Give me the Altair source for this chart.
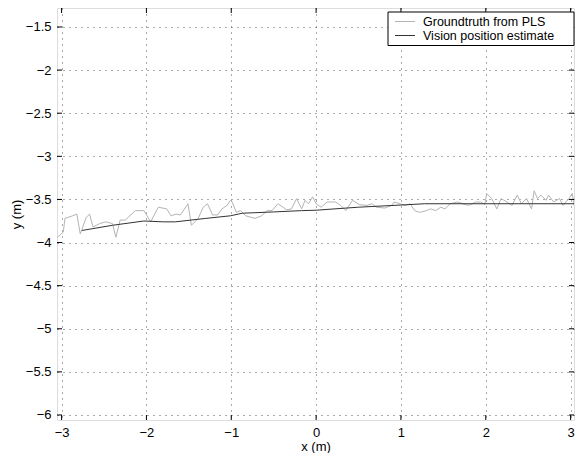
import altair as alt
import pandas as pd

# ---- data ----
gt_x = [-3.05, -2.98, -2.96, -2.87, -2.82, -2.78, -2.71, -2.67, -2.63, -2.55,
        -2.48, -2.40, -2.36, -2.31, -2.25, -2.13, -2.03, -1.95, -1.86, -1.76,
        -1.71, -1.65, -1.60, -1.51, -1.47, -1.39, -1.33, -1.28, -1.22, -1.16,
        -1.11, -1.05, -1.01, -0.99, -0.94, -0.89, -0.83, -0.72, -0.64, -0.58,
        -0.52, -0.45, -0.39, -0.35, -0.29, -0.23, -0.17, -0.13, -0.09, -0.04,
        0.00, 0.06, 0.13, 0.23, 0.29, 0.35, 0.43, 0.51, 0.60, 0.66,
        0.71, 0.81, 0.89, 0.92, 0.99, 1.05, 1.11, 1.16, 1.22, 1.30,
        1.35, 1.41, 1.47, 1.52, 1.58, 1.67, 1.73, 1.80, 1.88, 1.94,
        1.99, 2.01, 2.07, 2.13, 2.18, 2.25, 2.31, 2.37, 2.42, 2.48,
        2.54, 2.57, 2.61, 2.65, 2.71, 2.74, 2.80, 2.87, 2.91, 2.98,
        3.02, 3.04]
gt_y = [-3.94, -3.88, -3.72, -3.69, -3.67, -3.90, -3.71, -3.67, -3.82, -3.78,
        -3.76, -3.78, -3.94, -3.74, -3.74, -3.63, -3.63, -3.76, -3.59, -3.61,
        -3.69, -3.67, -3.68, -3.55, -3.80, -3.72, -3.59, -3.55, -3.68, -3.68,
        -3.61, -3.57, -3.51, -3.53, -3.65, -3.63, -3.69, -3.72, -3.69, -3.63,
        -3.63, -3.55, -3.59, -3.62, -3.61, -3.49, -3.61, -3.51, -3.55, -3.47,
        -3.55, -3.59, -3.53, -3.53, -3.57, -3.63, -3.51, -3.56, -3.57, -3.55,
        -3.59, -3.60, -3.57, -3.53, -3.55, -3.57, -3.55, -3.63, -3.65, -3.63,
        -3.61, -3.63, -3.59, -3.61, -3.55, -3.53, -3.55, -3.57, -3.53, -3.53,
        -3.56, -3.43, -3.49, -3.61, -3.49, -3.53, -3.57, -3.45, -3.55, -3.49,
        -3.61, -3.40, -3.49, -3.45, -3.51, -3.45, -3.53, -3.49, -3.57, -3.49,
        -3.43, -3.57]

vis_x = [-2.76, -2.40, -2.03, -1.80, -1.66, -1.30, -1.01, -0.87, -0.50, -0.17,
         0.00, 0.50, 1.00, 1.28, 2.00, 2.50, 3.04]
vis_y = [-3.86, -3.80, -3.75, -3.76, -3.76, -3.72, -3.69, -3.66, -3.645, -3.63,
         -3.625, -3.59, -3.565, -3.55, -3.55, -3.55, -3.55]

series_names = ["Groundtruth from PLS", "Vision position estimate"]
series_colors = ["#b4b4b4", "#333333"]

x_ticks = [-3, -2, -1, 0, 1, 2, 3]
y_ticks = [-6, -5.5, -5, -4.5, -4, -3.5, -3, -2.5, -2, -1.5]

x_domain = [-3.054, 3.04]
y_domain = [-6.058, -1.28]

W, H = 517, 412
FONT = "Liberation Sans"
FS = 13

df = pd.DataFrame({
    "x": gt_x + vis_x,
    "y": gt_y + vis_y,
    "series": [series_names[0]] * len(gt_x) + [series_names[1]] * len(vis_x),
})
xt = pd.DataFrame({"x": x_ticks})
yt = pd.DataFrame({"y": y_ticks})

xscale = alt.Scale(domain=x_domain, nice=False, zero=False)
yscale = alt.Scale(domain=y_domain, nice=False, zero=False)

lines = alt.Chart(df).mark_line(strokeWidth=1, clip=True).encode(
    x=alt.X("x:Q", scale=xscale, title="x (m)",
            axis=alt.Axis(values=x_ticks, format="~f", ticks=False, domain=False,
                          grid=True, gridDash=[1, 5], gridColor="#555555",
                          gridOpacity=1, labelPadding=6, labelFont=FONT,
                          labelFontSize=FS, labelColor="black",
                          titleFont=FONT, titleFontSize=FS, titleFontWeight="normal",
                          titleColor="black", titleY=20, titleBaseline="top")),
    y=alt.Y("y:Q", scale=yscale, title="y (m)",
            axis=alt.Axis(values=y_ticks, format="~f", ticks=False, domain=False,
                          grid=True, gridDash=[1, 5], gridColor="#555555",
                          gridOpacity=1, labelPadding=6, labelFont=FONT,
                          labelFontSize=FS, labelColor="black",
                          titleFont=FONT, titleFontSize=FS, titleFontWeight="normal",
                          titleColor="black", titleX=-41, titleBaseline="middle")),
    color=alt.Color("series:N",
                    scale=alt.Scale(domain=series_names, range=series_colors),
                    legend=None),
)

tick_len = 5
bottom_ticks = alt.Chart(xt).mark_rule(color="black", strokeWidth=1).encode(
    x=alt.X("x:Q", scale=xscale), y=alt.value(H), y2=alt.value(H - tick_len))
top_ticks = alt.Chart(xt).mark_rule(color="black", strokeWidth=1).encode(
    x=alt.X("x:Q", scale=xscale), y=alt.value(0), y2=alt.value(tick_len))
left_ticks = alt.Chart(yt).mark_rule(color="black", strokeWidth=1).encode(
    y=alt.Y("y:Q", scale=yscale), x=alt.value(0), x2=alt.value(tick_len))
right_ticks = alt.Chart(yt).mark_rule(color="black", strokeWidth=1).encode(
    y=alt.Y("y:Q", scale=yscale), x=alt.value(W), x2=alt.value(W - tick_len))

# ---- legend box (drawn as layers) ----
LX = W - 186
one = pd.DataFrame({"k": [0]})
leg_box = alt.Chart(one).mark_rect(fill="white", stroke="black", strokeWidth=1).encode(
    x=alt.value(LX), x2=alt.value(W), y=alt.value(4), y2=alt.value(37.5))
row_y = [13.5, 27.5]
leg_layers = [leg_box]
for i, name in enumerate(series_names):
    ld = pd.DataFrame({"name": [name]})
    leg_layers.append(alt.Chart(ld).mark_rule(strokeWidth=1, color=series_colors[i]).encode(
        x=alt.value(LX + 7), x2=alt.value(LX + 27), y=alt.value(row_y[i])))
    leg_layers.append(alt.Chart(ld).mark_text(
        align="left", baseline="middle", font=FONT, fontSize=12.5, color="black").encode(
        text="name:N", x=alt.value(LX + 35), y=alt.value(row_y[i])))

chart = alt.layer(lines, bottom_ticks, top_ticks, left_ticks, right_ticks,
                  *leg_layers).properties(
    width=W, height=H,
    autosize=alt.AutoSizeParams(type="none"),
    padding={"left": 49, "top": 0, "right": 1, "bottom": 33},
).configure_view(stroke="black", strokeWidth=1).configure(background="white")

chart.save("out.html", embed_options={"renderer": "svg", "actions": False})
